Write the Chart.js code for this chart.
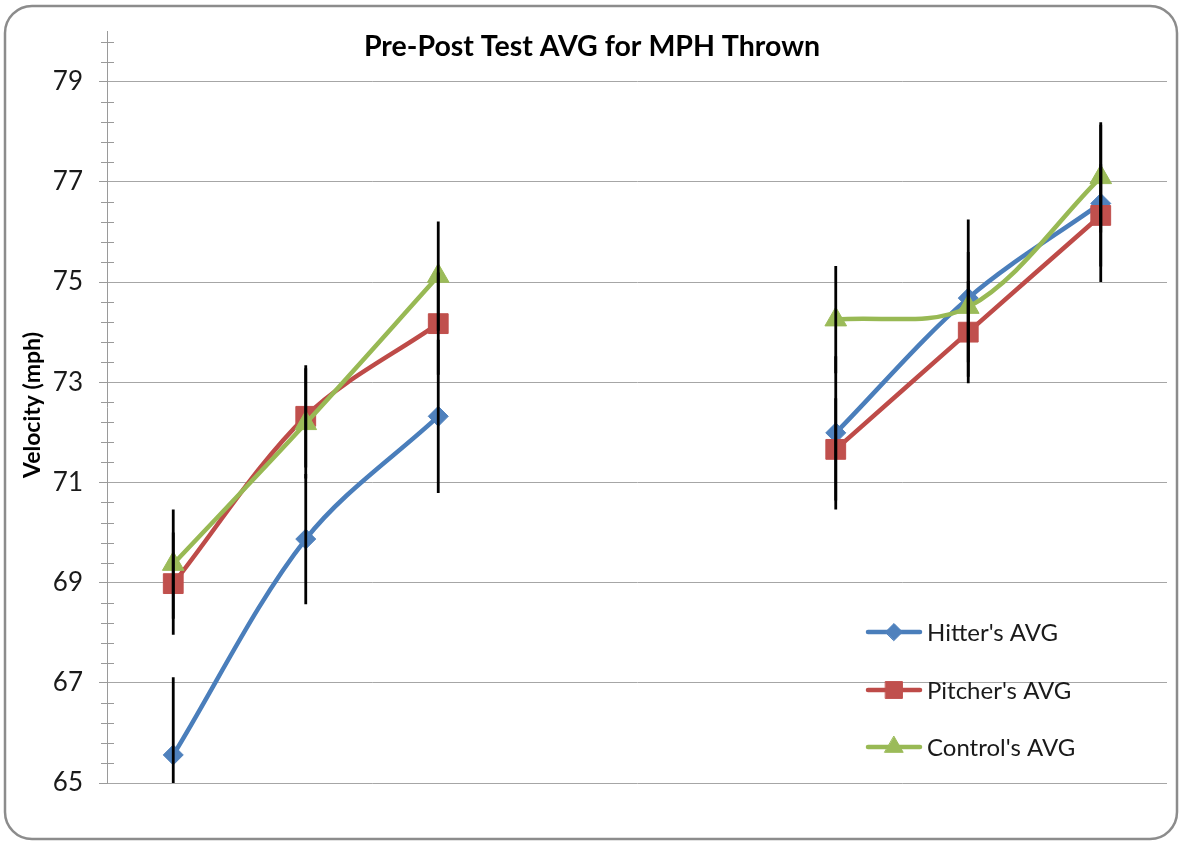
<!DOCTYPE html>
<html>
<head>
<meta charset="utf-8">
<script src="https://cdn.jsdelivr.net/npm/chart.js@4"></script>
<style>
  html, body { margin: 0; padding: 0; background: #ffffff; }
  canvas { display: block; }
</style>
</head>
<body>
<canvas id="c" width="1182" height="843"></canvas>
<script>
// ---- data ----
const categories = ['Pre 1', 'Pre 2', 'Pre 3', '', ' ', 'Post 1', 'Post 2', 'Post 3'];
const hitterAvg  = [65.56, 69.87, 72.32, null, null, 71.99, 74.68, 76.57];
const pitcherAvg = [68.98, 72.32, 74.17, null, null, 71.66, 74.00, 76.33];
const controlAvg = [69.37, 72.18, 75.12, null, null, 74.25, 74.50, 77.09];
const hitterErr  = [1.55, 1.30, 1.53, null, null, 1.53, 1.57, 1.57];
const pitcherErr = [1.02, 1.02, 1.02, null, null, 1.02, 1.02, 1.02];
const controlErr = [1.09, 1.10, 1.09, null, null, 1.07, 1.10, 1.10];
const yTickLabels = [65, 67, 69, 71, 73, 75, 77, 79];
const seriesNames = ["Hitter's AVG", "Pitcher's AVG", "Control's AVG"];
const chartTitle = 'Pre-Post Test AVG for MPH Thrown';
const yAxisTitle = 'Velocity (mph)';

const FONT = 'Lato, "Open Sans", sans-serif';

const frame = {
  id: 'frame',
  beforeDraw(chart) {
    const ctx = chart.ctx;
    ctx.save();
    ctx.fillStyle = '#ffffff';
    ctx.fillRect(0, 0, chart.width, chart.height);
    ctx.beginPath();
    ctx.roundRect(5, 6, 1172, 833, 27);
    ctx.lineWidth = 2.5;
    ctx.strokeStyle = '#8c8c8c';
    ctx.stroke();
    ctx.restore();
  }
};

const minorTicks = {
  id: 'minorTicks',
  afterDraw(chart) {
    const y = chart.scales.y;
    const ctx = chart.ctx;
    const x0 = chart.chartArea.left;
    ctx.save();
    ctx.strokeStyle = '#9a9a9a';
    ctx.lineWidth = 1;
    for (let i = 0; i <= 37; i++) {
      if (i % 5 === 0) continue;
      const v = 65 + i * 0.4;
      if (v > 80.001) break;
      const py = Math.round(y.getPixelForValue(v)) + 0.5;
      ctx.beginPath();
      ctx.moveTo(x0 - 6, py);
      ctx.lineTo(x0 + 7, py);
      ctx.stroke();
    }
    ctx.restore();
  }
};

const errorBars = {
  id: 'errorBars',
  afterDatasetsDraw(chart) {
    const ctx = chart.ctx;
    const ca = chart.chartArea;
    const ys = chart.scales.y;
    ctx.save();
    ctx.beginPath();
    ctx.rect(ca.left, ca.top, ca.right - ca.left, ca.bottom - ca.top);
    ctx.clip();
    ctx.strokeStyle = '#000000';
    ctx.lineWidth = 2.8;
    chart.data.datasets.forEach((ds, di) => {
      const meta = chart.getDatasetMeta(di);
      ds.data.forEach((v, i) => {
        const e = ds.errors[i];
        if (v == null || e == null) return;
        const px = meta.data[i].x;
        ctx.beginPath();
        ctx.moveTo(px, ys.getPixelForValue(v - e));
        ctx.lineTo(px, ys.getPixelForValue(v + e));
        ctx.stroke();
      });
    });
    ctx.restore();
  }
};

const texts = {
  id: 'texts',
  afterDraw(chart) {
    const ctx = chart.ctx;
    ctx.save();
    ctx.fillStyle = '#000000';
    ctx.textAlign = 'center';
    ctx.textBaseline = 'middle';
    ctx.font = 'bold 28.5px ' + FONT;
    ctx.fillText(chartTitle, 592, 47);
    ctx.translate(33, 405);
    ctx.rotate(-Math.PI / 2);
    ctx.font = 'bold 23px ' + FONT;
    ctx.fillText(yAxisTitle, 0, 0);
    ctx.restore();

    // legend
    const rows = [632, 690, 747];
    ctx.save();
    chart.data.datasets.forEach((ds, i) => {
      const yy = rows[i];
      ctx.strokeStyle = ds.borderColor;
      ctx.lineWidth = 4.5;
      ctx.lineCap = 'round';
      ctx.beginPath();
      ctx.moveTo(868, yy);
      ctx.lineTo(920, yy);
      ctx.stroke();
      ctx.save();
      ctx.fillStyle = ds.pointBackgroundColor;
      ctx.strokeStyle = ds.pointBackgroundColor;
      ctx.lineWidth = 1;
      Chart.helpers.drawPoint(ctx, { pointStyle: ds.pointStyle, radius: ds.pointRadius * 0.85, rotation: 0, borderWidth: 1 }, 894, yy);
      ctx.restore();
      ctx.fillStyle = '#1a1a1a';
      ctx.font = '24px ' + FONT;
      ctx.textAlign = 'left';
      ctx.textBaseline = 'middle';
      ctx.fillText(ds.label, 927, yy + 1);
    });
    ctx.restore();
  }
};

function mkDataset(label, data, errs, line, fill, style, radius, order) {
  return {
    label, data, errors: errs,
    borderColor: line, backgroundColor: fill,
    pointBackgroundColor: fill, pointBorderColor: fill,
    pointStyle: style, pointRadius: radius, pointBorderWidth: 1,
    pointHoverRadius: radius,
    borderWidth: 4.5, tension: 0.33, spanGaps: false, order
  };
}

new Chart(document.getElementById('c'), {
  type: 'line',
  data: {
    labels: categories,
    datasets: [
      mkDataset(seriesNames[0], hitterAvg, hitterErr, '#4A7EBB', '#4F81BD', 'rectRot', 10, 3),
      mkDataset(seriesNames[1], pitcherAvg, pitcherErr, '#BE4B48', '#C0504D', 'rect', 14, 2),
      mkDataset(seriesNames[2], controlAvg, controlErr, '#98B954', '#9BBB59', 'triangle', 12.5, 1)
    ]
  },
  options: {
    responsive: false,
    animation: false,
    events: [],
    layout: { padding: { left: 0, right: 11, top: 29, bottom: 60 } },
    plugins: { legend: { display: false }, title: { display: false }, tooltip: { enabled: false } },
    scales: {
      x: { display: false, offset: true },
      y: {
        min: 65, max: 80,
        afterBuildTicks(s) { s.ticks = yTickLabels.map(v => ({ value: v })); },
        afterFit(s) { s.width = 107; },
        border: { display: true, color: '#9a9a9a', width: 1 },
        grid: { color: '#a6a6a6', lineWidth: 1, drawTicks: true, tickLength: 8, tickColor: '#9a9a9a' },
        ticks: { color: '#1a1a1a', font: { family: FONT, size: 26 }, padding: 16 }
      }
    }
  },
  plugins: [frame, errorBars, minorTicks, texts]
});
</script>
</body>
</html>
